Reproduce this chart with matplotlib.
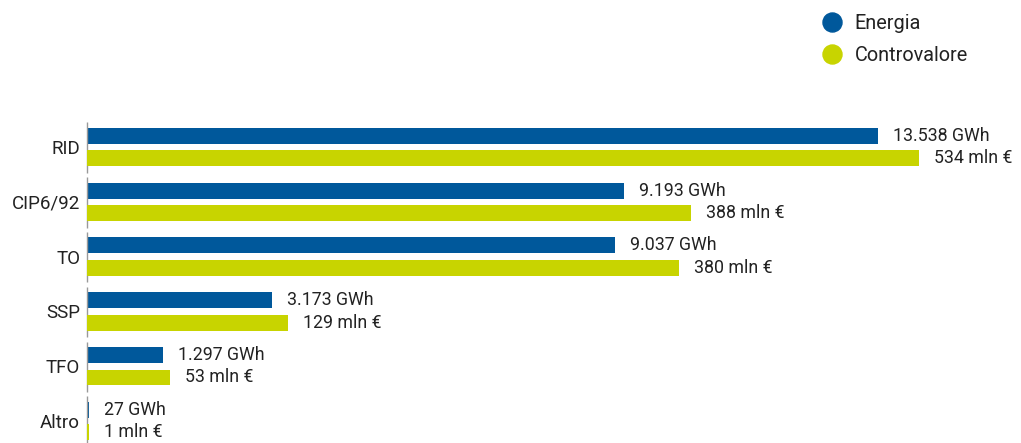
import numpy as np
import matplotlib.pyplot as plt
from matplotlib.lines import Line2D

categories = ["RID", "CIP6/92", "TO", "SSP", "TFO", "Altro"]
energia = [13538, 9193, 9037, 3173, 1297, 27]            # GWh
controvalore = [534, 388, 380, 129, 53, 1]               # mln €
energia_labels = ["13.538 GWh", "9.193 GWh", "9.037 GWh", "3.173 GWh", "1.297 GWh", "27 GWh"]
contro_labels = ["534 mln €", "388 mln €", "380 mln €", "129 mln €", "53 mln €", "1 mln €"]

BLUE = "#00589b"
GREEN = "#c8d400"
TXT = "#222222"

plt.rcParams["font.family"] = ["Roboto", "DejaVu Sans"]

fig = plt.figure(figsize=(10.21, 4.43), dpi=100)
ax = fig.add_axes([87 / 1021, 0, 934 / 1021, 333 / 443])
ax2 = ax.twiny()

y = np.arange(len(categories))
off = 0.205
h = 0.29

ax.barh(y - off, energia, height=h, color=BLUE)
ax2.barh(y + off, controvalore, height=h, color=GREEN)

ax.set_xlim(0, 15985)
ax2.set_xlim(0, 599.5)
ax.set_ylim(5.40, -0.675)

for yi, v, lab in zip(y, energia, energia_labels):
    ax.annotate(lab, (v, yi - off), xytext=(15, 0), textcoords="offset pixels",
                va="center", ha="left", fontsize=12.8, color=TXT)
for yi, v, lab in zip(y, controvalore, contro_labels):
    ax2.annotate(lab, (v, yi + off), xytext=(15, 0), textcoords="offset pixels",
                 va="center", ha="left", fontsize=12.8, color=TXT)

# segmented left axis line, one piece per group
ax.vlines(np.zeros(len(y)), y - 0.45, y + 0.47, color="#999999", lw=1, clip_on=False)

ax.set_yticks(y)
ax.set_yticklabels(categories, fontsize=13.5, color=TXT)
ax.tick_params(axis="y", length=0, pad=5)
ax.set_xticks([])
ax2.set_xticks([])
for a in (ax, ax2):
    for s in a.spines.values():
        s.set_visible(False)

handles = [Line2D([], [], marker="o", ls="", markersize=13.7, color=BLUE),
           Line2D([], [], marker="o", ls="", markersize=13.7, color=GREEN)]
fig.legend(handles, ["Energia", "Controvalore"], loc="upper left",
           bbox_to_anchor=(804 / 1021, 1.008), frameon=False, fontsize=14.3,
           labelspacing=0.65, handletextpad=0.65, handlelength=1.0,
           labelcolor=TXT)

fig.savefig("out.png", dpi=100)
